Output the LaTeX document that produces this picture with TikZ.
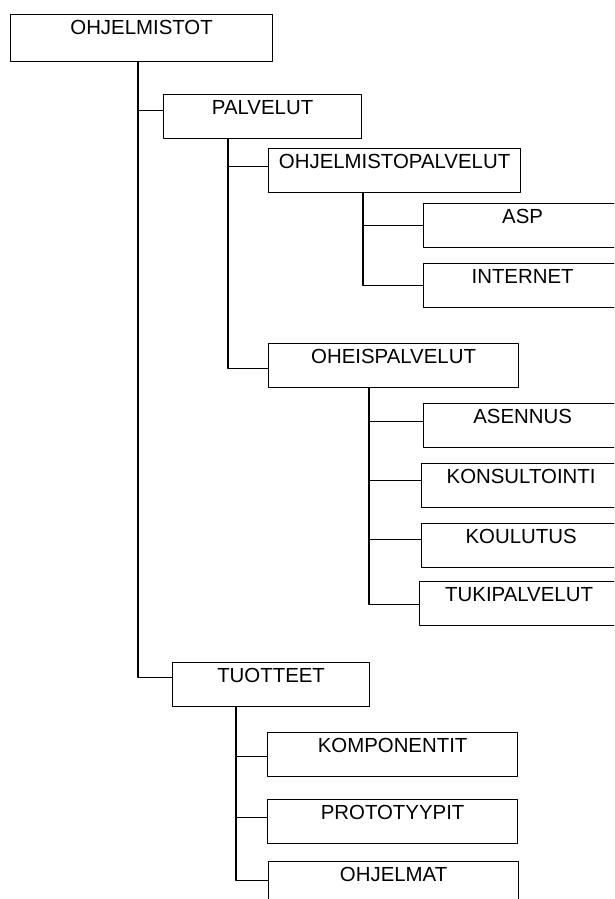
\documentclass[tikz,border=0pt]{standalone}
\usepackage{fontspec}
\setmainfont{Liberation Sans}
\begin{document}
\begin{tikzpicture}[x=1pt, y=-1pt, line join=round, line width=1.2pt,
		font=\fontsize{20.4}{24}\selectfont,
		box/.style={draw, anchor=north west, inner sep=0pt, text width=#1, align=center, text height=20pt, text depth=24pt}]
				\useasboundingbox (0,0) rectangle (614,899);
				\clip (0,0) rectangle (614,899);
				% boxes
				\node[box=262pt, text depth=27pt] (ohjelmistot) at (10,14) {OHJELMISTOT};
				\node[box=198pt] (palvelut) at (163,94) {PALVELUT};
				\node[box=252pt] (ohjpalv) at (268,148) {OHJELMISTOPALVELUT};
				\node[box=198pt] (asp) at (423,203) {ASP};
				\node[box=198pt] (internet) at (423,263) {INTERNET};
				\node[box=250pt] (oheispalv) at (268,343) {OHEISPALVELUT};
				\node[box=198pt] (asennus) at (423,403) {ASENNUS};
				\node[box=199pt] (konsultointi) at (421,463) {KONSULTOINTI};
				\node[box=199pt] (koulutus) at (421,523) {KOULUTUS};
				\node[box=199pt] (tukipalv) at (419,581) {TUKIPALVELUT};
				\node[box=197pt] (tuotteet) at (172,662) {TUOTTEET};
				\node[box=250pt] (komponentit) at (267,732) {KOMPONENTIT};
				\node[box=250pt] (prototyypit) at (267,799) {PROTOTYYPIT};
				\node[box=250pt] (ohjelmat) at (268,861) {OHJELMAT};
				% trunks
				\coordinate (t0) at ([xshift=128pt]ohjelmistot.south west);
				\coordinate (t1) at ([xshift=65pt]palvelut.south west);
				\coordinate (t2) at ([xshift=95pt]ohjpalv.south west);
				\coordinate (t3) at ([xshift=101pt]oheispalv.south west);
				\coordinate (t4) at ([xshift=64pt]tuotteet.south west);
				\draw (t0) |- ([yshift=6pt]palvelut.west);
				\draw (t0) |- ([yshift=7pt]tuotteet.west);
				\draw (t1) |- ([yshift=4pt]ohjpalv.west);
				\draw (t1) |- ([yshift=-3pt]oheispalv.west);
				\draw (t2) |- (asp.west);
				\draw (t2) |- (internet.west);
				\draw (t3) |- ([yshift=4pt]asennus.west);
				\draw (t3) |- ([yshift=5pt]konsultointi.west);
				\draw (t3) |- ([yshift=6pt]koulutus.west);
				\draw (t3) |- ([yshift=-1pt]tukipalv.west);
				\draw (t4) |- ([yshift=-2pt]komponentit.west);
				\draw (t4) |- ([yshift=4pt]prototyypit.west);
				\draw (t4) |- ([yshift=3pt]ohjelmat.west);
		\end{tikzpicture}
\end{document}
